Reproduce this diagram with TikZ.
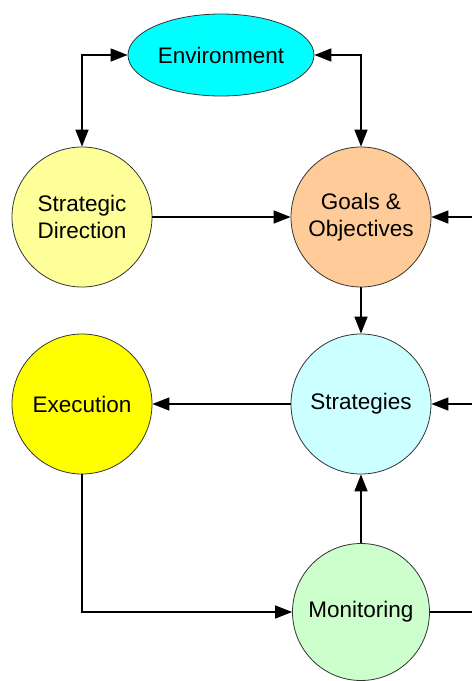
\documentclass[tikz,border=0pt]{standalone}
\usepackage{fontspec}
\setmainfont{Liberation Sans}
\usetikzlibrary{arrows.meta,shapes.geometric}
\definecolor{envc}{HTML}{00FFFF}
\definecolor{sdc}{HTML}{FFFF99}
\definecolor{goalc}{HTML}{FFCC99}
\definecolor{exec}{HTML}{FFFF00}
\definecolor{stratc}{HTML}{CCFFFF}
\definecolor{monc}{HTML}{CCFFCC}
\tikzset{
  bubble/.style={circle, draw=black!80, line width=0.8pt, minimum size=140pt, inner sep=0pt,
    align=center, font=\fontsize{22.5}{27}\selectfont},
  tip/.tip={Triangle[length=17pt,width=13pt]},
  conn/.style={line width=1.5pt, -tip},
  biconn/.style={line width=1.5pt, tip-tip},
  plain/.style={line width=1.5pt}
}
\begin{document}
\begin{tikzpicture}[x=1pt,y=-1pt]
\useasboundingbox (0,0) rectangle (472,681);
\fill[white] (0,0) rectangle (472,681);
\node[ellipse, draw=black!80, line width=0.8pt, fill=envc, minimum width=186pt, minimum height=82pt,
  inner sep=0pt, font=\fontsize{22.5}{27}\selectfont] (env) at (221,55) {Environment};
\node[bubble, fill=sdc] (sd) at (82,217) {Strategic\\Direction};
\node[bubble, fill=goalc] (goal) at (361,217) {Goals \&\\Objectives};
\node[bubble, fill=exec] (ex) at (82,404) {Execution};
\node[bubble, fill=stratc] (st) at (361,404) {Strategies};
\node[bubble, fill=monc, minimum size=137pt] (mon) at (361,612) {Monitoring};
\coordinate (gin) at (472,217);
\coordinate (sin) at (472,404);
\coordinate (mout) at (472,612);
\draw[biconn] (env.west) -| (sd.north);
\draw[biconn] (env.east) -| (goal.north);
\draw[conn] (sd.east) -- (goal.west);
\draw[conn] (gin) -- (goal.east);
\draw[conn] (goal.south) -- (st.north);
\draw[conn] (st.west) -- (ex.east);
\draw[conn] (sin) -- (st.east);
\draw[conn] (ex.south) |- (mon.west);
\draw[conn] (mon.north) -- (st.south);
\draw[plain] (mon.east) -- (mout);
\end{tikzpicture}
\end{document}
